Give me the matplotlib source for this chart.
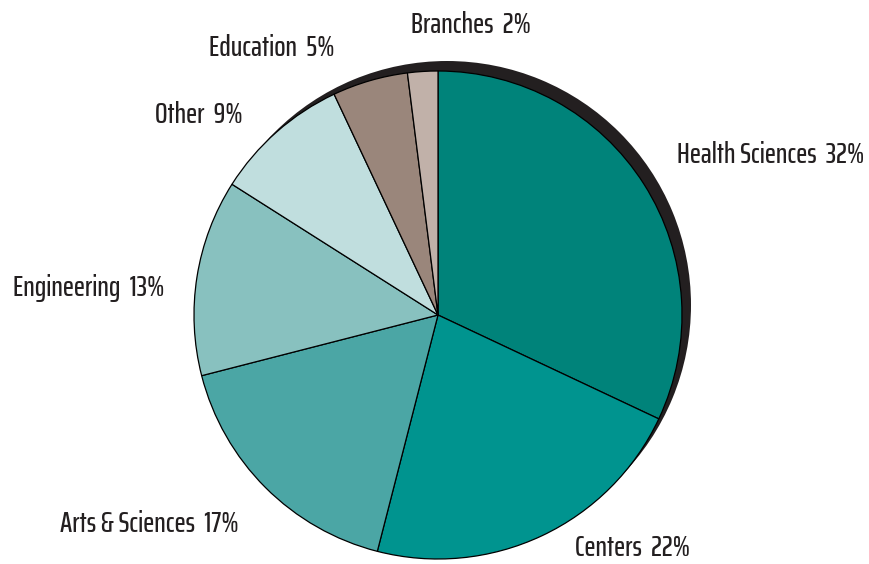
import matplotlib
matplotlib.use("Agg")
import matplotlib.pyplot as plt

categories = ["Health Sciences", "Centers", "Arts & Sciences", "Engineering",
              "Other", "Education", "Branches"]
shares = [32, 22, 17, 13, 9, 5, 2]
colors = ["#00837A", "#00948F", "#4BA6A5", "#88C1BF", "#C0DEDE", "#9A867B", "#C1B1A9"]

plt.rcParams["font.family"] = ["Saira ExtraCondensed", "DejaVu Sans"]

W, H = 869, 564
fig = plt.figure(figsize=(W / 100, H / 100), dpi=100)
ax = fig.add_axes([0, 0, 1, 1])

cx, cy, r = 438, H - 315, 244

# drop shadow behind the pie
ax.pie([1], colors=["#231F20"], radius=r, center=(cx + 9, cy + 10),
       wedgeprops=dict(linewidth=0), frame=True)
ax.pie(shares, colors=colors, radius=r, center=(cx, cy), startangle=90,
       counterclock=False,
       wedgeprops=dict(edgecolor="black", linewidth=0.9), frame=True)
ax.set_xlim(0, W)
ax.set_ylim(0, H)
ax.set_aspect("equal")
ax.axis("off")

# label anchors: left edge and baseline, measured from the top
label_pos = {
    "Health Sciences": (677, 163),
    "Centers": (575, 556),
    "Arts & Sciences": (60, 532),
    "Engineering": (13, 296),
    "Other": (155, 123),
    "Education": (209, 56),
    "Branches": (411, 33),
}
for name, val in zip(categories, shares):
    x, y = label_pos[name]
    ax.text(x, H - y, f"{name}  {val}%", ha="left", va="baseline",
            fontsize=21.3, fontweight="medium", color="#231F20")

fig.savefig("out.png", dpi=100)
